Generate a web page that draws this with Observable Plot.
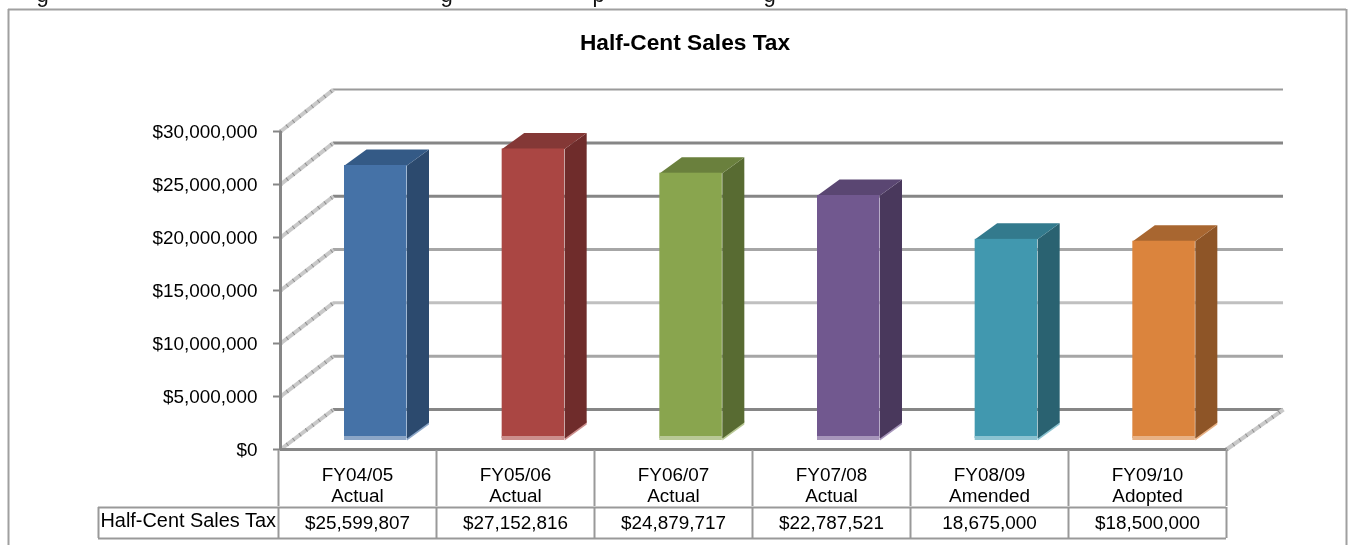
<!doctype html>
<html><head><meta charset="utf-8">
<style>html,body{margin:0;padding:0;background:#fff;overflow:hidden}svg{display:block;filter:blur(0.45px)}</style>
<script src="https://cdn.jsdelivr.net/npm/d3@7"></script>
<script src="https://cdn.jsdelivr.net/npm/@observablehq/plot@0.6"></script>
</head><body><div id="chart"></div>
<script>
const seriesName = "Half-Cent Sales Tax";
const years = ["FY04/05","FY05/06","FY06/07","FY07/08","FY08/09","FY09/10"];
const stages = ["Actual","Actual","Actual","Actual","Amended","Adopted"];
const values = [25599807,27152816,24879717,22787521,18675000,18500000];
const valueLabels = ["$25,599,807","$27,152,816","$24,879,717","$22,787,521","18,675,000","$18,500,000"];
const yTicks = [0,5e6,10e6,15e6,20e6,25e6,30e6];
const frontColors = ["#4572a7","#aa4643","#89a54e","#71588f","#4198af","#db843d"];
const sideColors = ["#2c4a6e","#6f2c2b","#586b32","#49385c","#2a6271","#8e5527"];
const topColors = ["#345a86","#843836","#6a803d","#5a4672","#337a8d","#a86630"];
const baseColors = ["#8ca6c7","#cc8f8d","#b9c996","#a796bb","#8cc3d1","#e8b286"];
const gridColors = ["#868686","#a6a6a6","#c0c0c0","#a6a6a6","#868686","#868686","#9a9a9a"];
const clippedLetters = [["g",42],["g",446],["p",598],["g",769]];

// furniture helpers: chart units per screen pixel
const W=1357,H=545,L=280,R=1226,T=131,B=449;
const ux=p=>(p-L)/((R-L)/6), uy=p=>(B-p)*30e6/(B-T);
const wallDx=ux(333), wallDy=uy(B-40), barX=ux(344), barW=ux(344+62.5), depthX=ux(L+22), depthY=uy(B-16);
const baseY=uy(438), stretch=1.006;
const cell=i=>ux(278+158*i);

const bars=values.map((v,i)=>{
  const x1=i+barX, x2=i+barW, y1=baseY, y2=baseY+v*stretch;
  return {i,v,x1,x2,y1,y2,front:frontColors[i],side:sideColors[i],top:topColors[i],base:baseColors[i]};
});
const poly=(f,color)=>bars.flatMap(b=>f(b).map(([x,y])=>({x,y,id:b.i,color:b[color]})));
const sides=poly(b=>[[b.x2,b.y1],[b.x2+depthX,b.y1+depthY],[b.x2+depthX,b.y2+depthY],[b.x2,b.y2]],"side");
const tops=poly(b=>[[b.x1,b.y2],[b.x2,b.y2],[b.x2+depthX,b.y2+depthY],[b.x1+depthX,b.y2+depthY]],"top");
const sideFoot=poly(b=>[[b.x2,b.y1-uy(B-2)],[b.x2+depthX,b.y1+depthY-uy(B-2)],[b.x2+depthX,b.y1+depthY+uy(B-2)],[b.x2,b.y1+uy(B-2)]],"base");

const edges=d3.range(7).map(cell);
const mids=d3.range(6).map(i=>(cell(i)+cell(i+1))/2);
const font='"Liberation Sans",Arial,sans-serif';
const lineColor="#999999", axisColor="#868686";
const diag=(v,x)=>({x1:x,y1:v,x2:x+wallDx,y2:v*stretch+wallDy});

const marks=[
  // page frame and clipped line above it
  Plot.ruleY([uy(9)],{x1:ux(8),x2:ux(1346),stroke:"#a0a0a0",strokeWidth:2}),
  Plot.ruleX([ux(8),ux(1346)],{y1:uy(9),y2:uy(545),stroke:"#a0a0a0",strokeWidth:2}),
  Plot.text(clippedLetters,{x:d=>ux(d[1]),y:uy(-6),text:d=>d[0],fontSize:22,fill:"#111"}),
  // title
  Plot.text([seriesName],{x:ux(684.5),y:uy(42),fontSize:22.7,fontWeight:"bold",fill:"#000"}),
  // back wall gridlines
  Plot.ruleY(yTicks.map((v,i)=>({v,c:gridColors[i]})),{y:d=>d.v*stretch+wallDy,x1:wallDx,x2:6+ux(L+57),stroke:"c",strokeWidth:d=>d.v===30e6?2:3}),
  // side wall diagonals
  Plot.link(yTicks.map(v=>diag(v,0)),{x1:"x1",y1:"y1",x2:"x2",y2:"y2",stroke:"#c9c9c9",strokeWidth:4}),
  Plot.link(yTicks.map(v=>diag(v,0)),{x1:"x1",y1:"y1",x2:"x2",y2:"y2",stroke:"#8e8e8e",strokeWidth:4,strokeDasharray:"1 7"}),
  Plot.link([{x1:6,y1:0,x2:6+ux(L+57),y2:wallDy}],{x1:"x1",y1:"y1",x2:"x2",y2:"y2",stroke:"#c9c9c9",strokeWidth:4}),
  Plot.link([{x1:6,y1:0,x2:6+ux(L+57),y2:wallDy}],{x1:"x1",y1:"y1",x2:"x2",y2:"y2",stroke:"#8e8e8e",strokeWidth:4,strokeDasharray:"1 7"}),
  // bars
  Plot.line(sideFoot,{x:"x",y:"y",z:"id",fill:"color",stroke:null}),
  Plot.line(sides,{x:"x",y:"y",z:"id",fill:"color",stroke:null}),
  Plot.line(tops,{x:"x",y:"y",z:"id",fill:"color",stroke:null}),
  Plot.rectY(bars,{x1:"x1",x2:"x2",y1:"y1",y2:"y2",fill:"front",inset:0}),
  Plot.rectY(bars,{x1:"x1",x2:"x2",y1:uy(436),y2:uy(440),fill:"base"}),
  // axes
  Plot.axisY({ticks:yTicks,tickFormat:d3.format("$,.0f"),tickSize:7,tickPadding:16,fontSize:18.9,stroke:axisColor,strokeWidth:2,fill:"#000",label:null}),
  Plot.ruleX([0],{y1:0,y2:30e6,stroke:axisColor,strokeWidth:3}),
  Plot.ruleY([0],{x1:0,x2:6,stroke:axisColor,strokeWidth:3}),
  // data table
  Plot.ruleX(edges,{y1:uy(450),y2:uy(506),stroke:lineColor,strokeWidth:2}),
  Plot.ruleY([uy(507),uy(538)],{x1:ux(98),x2:6,stroke:lineColor,strokeWidth:2}),
  Plot.ruleX([ux(98),...edges],{y1:uy(507),y2:uy(538),stroke:lineColor,strokeWidth:2}),
  Plot.text(years,{x:(d,i)=>mids[i],y:uy(474),text:d=>d,fontSize:18.9,fill:"#000"}),
  Plot.text(stages,{x:(d,i)=>mids[i],y:uy(495),text:d=>d,fontSize:18.9,fill:"#000"}),
  Plot.text(valueLabels,{x:(d,i)=>mids[i],y:uy(522),text:d=>d,fontSize:18.9,fill:"#000"}),
  Plot.text([seriesName],{x:ux(100),y:uy(520),textAnchor:"start",fontSize:19.9,fill:"#000"})
];
const chart=Plot.plot({width:W,height:H,marginLeft:L,marginRight:W-R,marginTop:T,marginBottom:H-B,
  style:{fontFamily:font,background:"#fff",overflow:"hidden"},
  x:{domain:[0,6],axis:null},y:{domain:[0,30e6],axis:null},color:{type:"identity"},marks});
document.getElementById("chart").append(chart);
</script></body></html>
